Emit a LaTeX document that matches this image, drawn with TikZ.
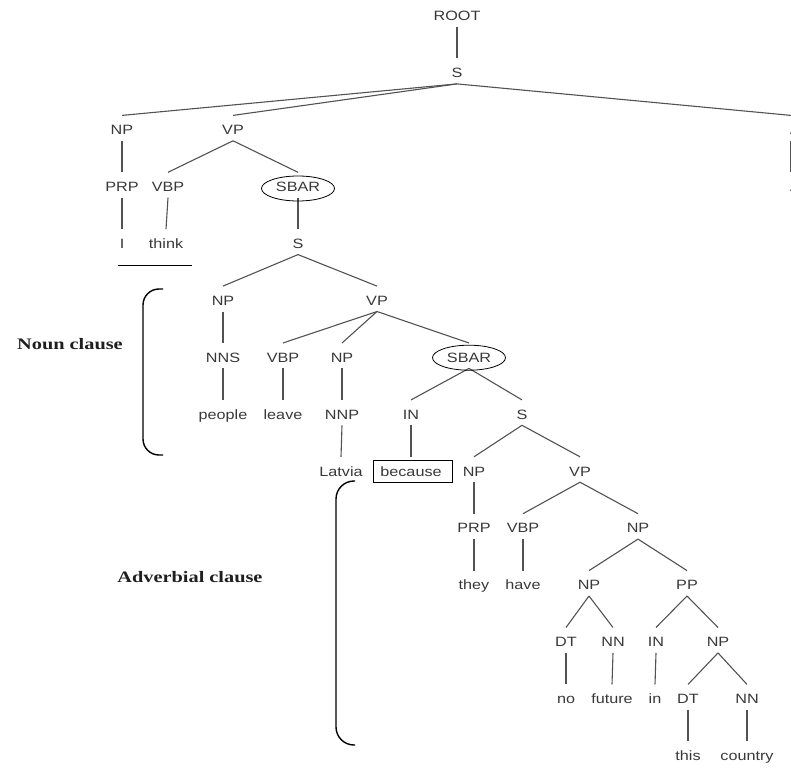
\documentclass[tikz,border=0pt]{standalone}
\usepackage{fontspec}
\usetikzlibrary{shapes.geometric}
\newfontfamily\treefont[FakeStretch=1.2]{Liberation Sans}
\newfontfamily\lblfont[FakeStretch=1.27]{Liberation Serif}
\tikzset{
  tn/.style={font=\treefont\fontsize{13.5pt}{16pt}\selectfont, text=black!78, anchor=base,
    inner xsep=0pt, inner ysep=6pt, text height=13pt, text depth=0pt},
  br/.style={draw=black!68, line width=1.1pt},
  ring/.style={draw=black, line width=0.8pt, ellipse, inner sep=0pt, minimum width=73pt, minimum height=25pt},
  wbox/.style={draw=black, line width=0.9pt, inner sep=0pt, minimum width=79pt, minimum height=22pt},
  clbr/.style={draw=black, line width=1.4pt},
  clab/.style={font=\lblfont\bfseries\fontsize{16pt}{19pt}\selectfont, text=black!88, inner sep=0pt}
}
\begin{document}
\begin{tikzpicture}[x=1pt,y=-1pt]
\useasboundingbox (0,0) rectangle (791,767);
\clip (0,0) rectangle (791,767);
% rows (baselines)
\node[tn] (root) at (457,20.8) {ROOT};
\node[tn] (s1) at (457,77.7) {S};
\node[tn] (np1) at (122,134.6) {NP};
\node[tn] (vp1) at (233,134.6) {VP};
\node[tn] (dot1) at (791,134.6) {.};
\node[tn] (prp1) at (122,191.5) {PRP};
\node[tn] (vbp1) at (168,191.5) {VBP};
\node[tn] (sbar1) at (298,191.5) {SBAR};
\node[tn] (dot2) at (791,191.5) {.};
\node[tn] (wI) at (122,248.4) {I};
\node[tn] (wthink) at (166,248.4) {think};
\node[tn] (s2) at (298,248.4) {S};
\node[tn] (np2) at (223,305.3) {NP};
\node[tn] (vp2) at (377,305.3) {VP};
\node[tn] (nns) at (223,362.2) {NNS};
\node[tn] (vbp2) at (283,362.2) {VBP};
\node[tn] (np3) at (342,362.2) {NP};
\node[tn] (sbar2) at (469,362.2) {SBAR};
\node[tn] (wpeople) at (223,419.1) {people};
\node[tn] (wleave) at (283,419.1) {leave};
\node[tn] (nnp) at (342,419.1) {NNP};
\node[tn] (in1) at (411,419.1) {IN};
\node[tn] (s3) at (522,419.1) {S};
\node[tn] (wlatvia) at (341,476.0) {Latvia};
\node[tn] (wbecause) at (411,476.0) {because};
\node[tn] (np4) at (474,476.0) {NP};
\node[tn] (vp3) at (580,476.0) {VP};
\node[tn] (prp2) at (474,532.9) {PRP};
\node[tn] (vbp3) at (523,532.9) {VBP};
\node[tn] (np5) at (638,532.9) {NP};
\node[tn] (wthey) at (474,589.8) {they};
\node[tn] (whave) at (523,589.8) {have};
\node[tn] (np6) at (589,589.8) {NP};
\node[tn] (pp) at (687,589.8) {PP};
\node[tn] (dt1) at (566,646.7) {DT};
\node[tn] (nn1) at (613,646.7) {NN};
\node[tn] (in2) at (656,646.7) {IN};
\node[tn] (np7) at (718,646.7) {NP};
\node[tn] (wno) at (566,703.6) {no};
\node[tn] (wfuture) at (612,703.6) {future};
\node[tn] (win) at (655,703.6) {in};
\node[tn] (dt2) at (688,703.6) {DT};
\node[tn] (nn2) at (747,703.6) {NN};
\node[tn] (wthis) at (688,760.5) {this};
\node[tn] (wcountry) at (747,760.5) {country};
% branches
\foreach \p/\c in {root/s1, s1/np1, s1/vp1, s1/dot1, dot1/dot2, np1/prp1, prp1/wI,
  vp1/vbp1, vp1/sbar1, vbp1/wthink, sbar1/s2, s2/np2, s2/vp2, np2/nns, nns/wpeople,
  vp2/vbp2, vp2/np3, vp2/sbar2, vbp2/wleave, np3/nnp, nnp/wlatvia, sbar2/in1, sbar2/s3,
  in1/wbecause, s3/np4, s3/vp3, np4/prp2, prp2/wthey, vp3/vbp3, vp3/np5, vbp3/whave,
  np5/np6, np5/pp, np6/dt1, np6/nn1, dt1/wno, nn1/wfuture, pp/in2, pp/np7, in2/win,
  np7/dt2, np7/nn2, dt2/wthis, nn2/wcountry}
  \draw[br] (\p.south) -- (\c.north);
% highlights
\node[ring] (ring1) at ([yshift=3pt]sbar1.base) {};
\node[ring] (ring2) at ([yshift=4.5pt]sbar2.base) {};
\node[wbox] (box1) at ([xshift=1.5pt,yshift=4.5pt]wbecause.base) {};
\draw[line width=1.5pt] (118,265.5) -- (192,265.5);
% clause brackets
\draw[clbr, rounded corners=16pt] (163,289) -- (143,289) -- (143,455) -- (163,455);
\draw[clbr, rounded corners=18pt] (355,481) -- (336,481) -- (336,745) -- (355,745);
\node[clab] (lnoun) at (70,344) {Noun clause};
\node[clab] (ladv) at (190,577) {Adverbial clause};
\end{tikzpicture}
\end{document}
